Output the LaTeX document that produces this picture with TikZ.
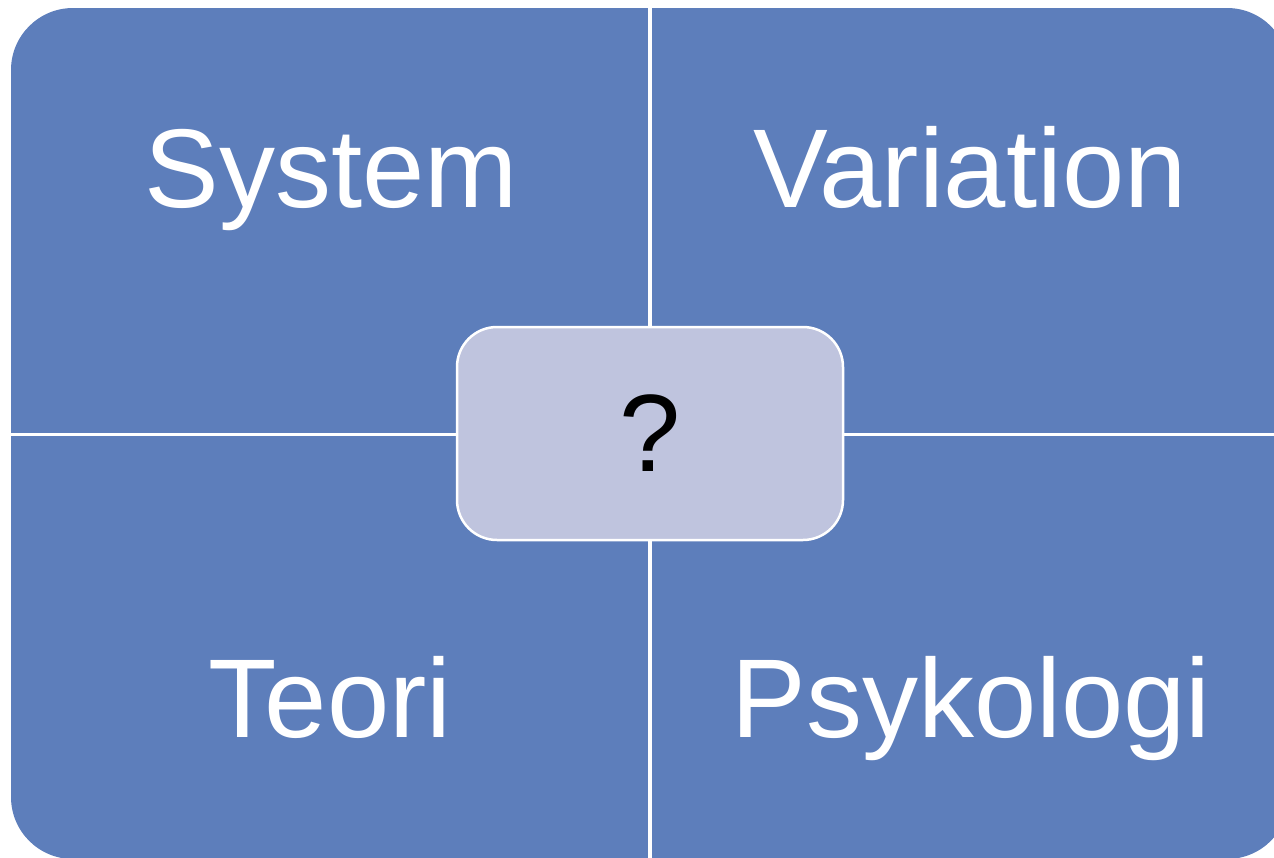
\documentclass[tikz,border=0pt]{standalone}
\usepackage{fontspec}
\setmainfont{Liberation Sans}
\definecolor{quadblue}{HTML}{5D7EBB}
\definecolor{hubfill}{HTML}{BFC4DE}
\begin{document}
\begin{tikzpicture}[x=1pt,y=-1pt,
  quadtext/.style={text=white,font=\fontsize{112}{112}\selectfont,anchor=base,inner sep=0pt},
  hub/.style={draw=white,line width=2.5pt,fill=hubfill,rounded corners=40pt,
    minimum width=386pt,minimum height=213pt,inner sep=0pt,
    font=\fontsize{110}{110}\selectfont,text=black}]
  \useasboundingbox (0,0) rectangle (1274,857);
  \clip (0,0) rectangle (1274,857);
  % four quadrants as one rounded block split by white gaps
  \fill[quadblue,rounded corners=62pt] (11,8) rectangle (1289,859);
  \fill[white] (648,0) rectangle (652,860);
  \fill[white] (0,433) rectangle (1290,435.5);
  % quadrant labels
  \node[quadtext] (sys) at (331,207) {System};
  \node[quadtext] (var) at (970,207) {Variation};
  \node[quadtext] (teo) at (330,737) {Teori};
  \node[quadtext] (psy) at (971,737) {Psykologi};
  % central box
  \node[hub] (q) at (650,433.5) {};
  \node[anchor=base,inner sep=0pt,font=\fontsize{110}{110}\selectfont] (qm) at (650,471) {?};
\end{tikzpicture}
\end{document}
